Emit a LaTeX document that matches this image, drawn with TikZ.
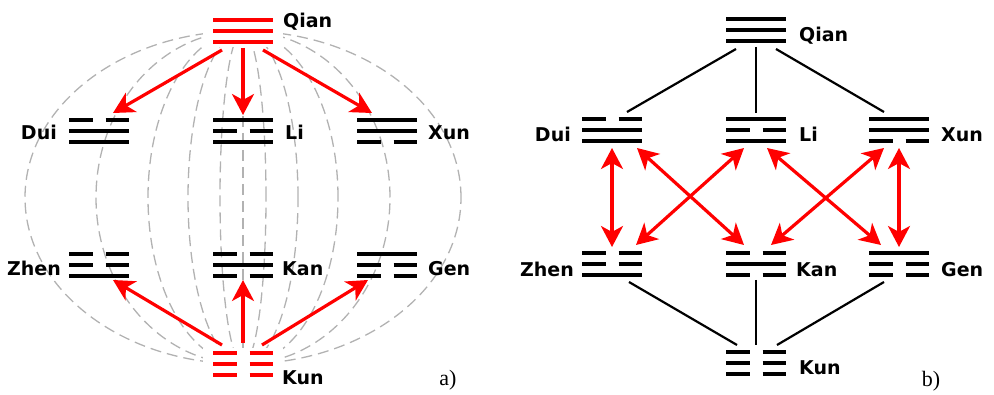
\documentclass[tikz,border=0pt]{standalone}
\usepackage{fontspec}
\setmainfont{DejaVu Sans}
\newfontfamily\panelfont{Liberation Serif}
\usetikzlibrary{arrows.meta,calc}
\newcommand\drawtrigram[5]{%
  \foreach \p/\dy in {#3/-11,#4/0,#5/11}{%
    \ifnum\p=1
      \draw[trline,#2] ($(#1.center)+(-30,\dy)$) -- ($(#1.center)+(30,\dy)$);
    \else
      \draw[trline,#2] ($(#1.center)+(-30,\dy)$) -- ($(#1.center)+(-6.5,\dy)$);
      \draw[trline,#2] ($(#1.center)+(6.5,\dy)$) -- ($(#1.center)+(30,\dy)$);
    \fi
  }%
}
\begin{document}
\begin{tikzpicture}[x=1pt,y=-1pt,
  trinode/.style={minimum width=60pt,minimum height=26pt,inner sep=0pt,outer sep=0pt},
  trline/.style={line width=4pt,line cap=butt},
  lbl/.style={inner sep=0pt,anchor=base west,font=\fontsize{19}{19}\selectfont\bfseries},
  lblr/.style={lbl,anchor=base east},
  panel/.style={inner sep=0pt,anchor=base,font=\panelfont\fontsize{22}{22}\selectfont},
  meridian/.style={draw=black!30,line width=1.3pt,dash pattern=on 11pt off 6pt},
  redarrow/.style={draw=red,line width=3.2pt,-{Stealth[length=21pt,width=22pt,inset=6pt]}},
  redboth/.style={draw=red,line width=3.2pt,{Stealth[length=21pt,width=22pt,inset=6pt]}-{Stealth[length=21pt,width=22pt,inset=6pt]}},
  blackline/.style={draw=black,line width=2.2pt}]
\useasboundingbox (0,0) rectangle (994,395);

% ---------- panel a) ----------
\foreach \r in {218,147,95,55,23}{
  \draw[meridian] (243,197.5) ellipse [x radius=\r pt,y radius=166.5pt];
}
\node[trinode] (qa) at (243,31) {};
\node[trinode] (da) at (99,131) {};
\node[trinode] (la) at (243,131) {};
\node[trinode] (xa) at (387,131) {};
\node[trinode] (za) at (99,265) {};
\node[trinode] (ka) at (243,265) {};
\node[trinode] (ga) at (387,265) {};
\node[trinode] (ua) at (243,364) {};
\draw[meridian] (qa.center) -- (ua.center);
\fill[white] ($(qa.center)+(-40,-18)$) rectangle ($(qa.center)+(40,16)$);
\fill[white] ($(ua.center)+(-40,-16)$) rectangle ($(ua.center)+(40,18)$);

\drawtrigram{qa}{red}{1}{1}{1}
\drawtrigram{da}{black}{0}{1}{1}
\drawtrigram{la}{black}{1}{0}{1}
\drawtrigram{xa}{black}{1}{1}{0}
\drawtrigram{za}{black}{0}{0}{1}
\drawtrigram{ka}{black}{0}{1}{0}
\drawtrigram{ga}{black}{1}{0}{0}
\drawtrigram{ua}{red}{0}{0}{0}

\node[lbl]  (tqa) at (283,28) {Qian};
\node[lblr] (tda) at (57,140) {Dui};
\node[lbl]  (tla) at (285,140) {Li};
\node[lbl]  (txa) at (428,140) {Xun};
\node[lblr] (tza) at (61,276) {Zhen};
\node[lbl]  (tka) at (282,276) {Kan};
\node[lbl]  (tga) at (428,276) {Gen};
\node[lbl]  (tua) at (282,385) {Kun};
\node[panel] (pa) at (448,386) {a)};

\draw[redarrow] ($(qa.south)+(-21,6)$) -- ($(da.north)+(14,-5)$);
\draw[redarrow] ($(qa.south)+(0,4)$) -- ($(la.north)+(0,-3)$);
\draw[redarrow] ($(qa.south)+(20,6)$) -- ($(xa.north)+(-15,-5)$);
\draw[redarrow] ($(ua.north)+(-21,-6)$) -- ($(za.south)+(14,2)$);
\draw[redarrow] ($(ua.north)+(0,-8)$) -- ($(ka.south)+(0,2)$);
\draw[redarrow] ($(ua.north)+(19,-6)$) -- ($(ga.south)+(-19,2)$);

% ---------- panel b) ----------
\node[trinode] (qb) at (756,30) {};
\node[trinode] (db) at (612,130) {};
\node[trinode] (lb) at (756,130) {};
\node[trinode] (xb) at (899,130) {};
\node[trinode] (zb) at (612,264) {};
\node[trinode] (kb) at (756,264) {};
\node[trinode] (gb) at (899,264) {};
\node[trinode] (ub) at (756,363) {};

\drawtrigram{qb}{black}{1}{1}{1}
\drawtrigram{db}{black}{0}{1}{1}
\drawtrigram{lb}{black}{1}{0}{1}
\drawtrigram{xb}{black}{1}{1}{0}
\drawtrigram{zb}{black}{0}{0}{1}
\drawtrigram{kb}{black}{0}{1}{0}
\drawtrigram{gb}{black}{1}{0}{0}
\drawtrigram{ub}{black}{0}{0}{0}

\node[lbl]  (tqb) at (799,42) {Qian};
\node[lblr] (tdb) at (571,142) {Dui};
\node[lbl]  (tlb) at (799,142) {Li};
\node[lbl]  (txb) at (941,142) {Xun};
\node[lblr] (tzb) at (574,277) {Zhen};
\node[lbl]  (tkb) at (796,277) {Kan};
\node[lbl]  (tgb) at (941,277) {Gen};
\node[lbl]  (tub) at (799,375) {Kun};
\node[panel] (pb) at (931,387) {b)};

\draw[blackline] ($(qb.south)+(-20,6)$) -- ($(db.north)+(15,-5)$);
\draw[blackline] ($(qb.south)+(0,4)$) -- ($(lb.north)+(0,-4)$);
\draw[blackline] ($(qb.south)+(20,6)$) -- ($(xb.north)+(-15,-5)$);
\draw[blackline] ($(zb.south)+(17,5)$) -- ($(ub.north)+(-19,-5)$);
\draw[blackline] ($(kb.south)+(0,3)$) -- ($(ub.north)+(0,-5)$);
\draw[blackline] ($(gb.south)+(-15,5)$) -- ($(ub.north)+(21,-5)$);

\draw[redboth] ($(db.south)+(0,5)$) -- ($(zb.north)+(0,-4)$);
\draw[redboth] ($(db.south)+(25,5)$) -- ($(kb.north)+(-12,-6)$);
\draw[redboth] ($(lb.south)+(-12,5)$) -- ($(zb.north)+(24,-6)$);
\draw[redboth] ($(lb.south)+(11,5)$) -- ($(gb.north)+(-18,-6)$);
\draw[redboth] ($(xb.south)+(-15,5)$) -- ($(kb.north)+(15,-6)$);
\draw[redboth] ($(xb.south)+(0,5)$) -- ($(gb.north)+(0,-4)$);
\end{tikzpicture}
\end{document}
